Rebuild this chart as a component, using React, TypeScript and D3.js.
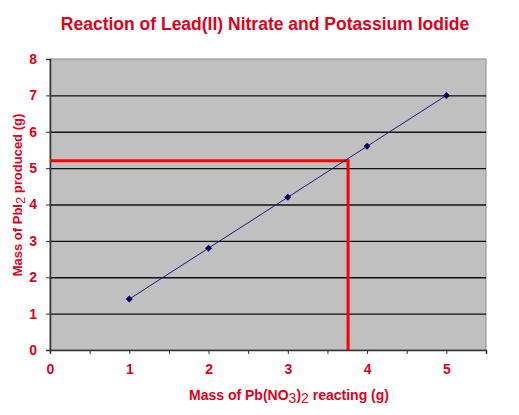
import { useEffect, useRef } from "react";
import * as d3 from "d3";

const massNitrate = [1, 2, 3, 4, 5];
const massIodide = [1.4, 2.8, 4.2, 5.6, 7.0];
const readX = 3.76;
const readY = 5.2;
const xTicks = [0, 1, 2, 3, 4, 5];
const yTicks = [0, 1, 2, 3, 4, 5, 6, 7, 8];

const W = 519;
const H = 415;
const margin = { top: 59, right: 33, bottom: 65, left: 50 };
const red = "#e0001b";
const font = "'Liberation Sans', Arial, sans-serif";

export default function App() {
  const ref = useRef<SVGSVGElement>(null);

  useEffect(() => {
    const svg = d3.select(ref.current);
    svg.selectAll("*").remove();

    const x = d3.scaleLinear().domain([0, 5.5]).range([margin.left, W - margin.right]);
    const y = d3.scaleLinear().domain([0, 8]).range([H - margin.bottom, margin.top]);

    svg.append("rect").attr("width", W).attr("height", H).attr("fill", "white");

    // title
    svg.append("text")
      .attr("x", 265).attr("y", 30)
      .attr("text-anchor", "middle")
      .style("font-family", font).style("font-weight", "bold").style("font-size", "17.5px")
      .attr("fill", red)
      .text("Reaction of Lead(II) Nitrate and Potassium Iodide");

    // plot area
    svg.append("rect")
      .attr("x", x(0)).attr("y", y(8))
      .attr("width", x(5.5) - x(0)).attr("height", y(0) - y(8))
      .attr("fill", "#c0c0c0")
      .attr("stroke", "#8c8c8c").attr("stroke-width", 1);

    // gridlines
    svg.append("g").selectAll("line")
      .data(yTicks.filter((d) => d > 0 && d < 8))
      .join("line")
      .attr("x1", x(0)).attr("x2", x(5.5))
      .attr("y1", (d) => y(d) + 0.5).attr("y2", (d) => y(d) + 0.5)
      .attr("stroke", "#111").attr("stroke-width", 1.3);

    // axes
    const yAxis = svg.append("g")
      .attr("transform", `translate(${x(0)},0)`)
      .call(d3.axisLeft(y).tickValues(yTicks).tickSize(4).tickFormat(d3.format("d")));
    const xAxis = svg.append("g")
      .attr("transform", `translate(0,${y(0)})`)
      .call(d3.axisBottom(x).tickValues(d3.range(0, 5.51, 0.5)).tickSize(4)
        .tickFormat((d) => (xTicks.includes(Number(d)) ? String(d) : "")));
    [yAxis, xAxis].forEach((a) => {
      a.select(".domain").attr("stroke", "#333").attr("stroke-width", 1.5);
      a.selectAll(".tick line").attr("stroke", "#333");
      a.selectAll("text")
        .style("font-family", font).style("font-weight", "bold").style("font-size", "14px")
        .attr("fill", red);
    });
    yAxis.selectAll("text").attr("x", -13);
    xAxis.selectAll("text").attr("y", 14);

    // reading lines
    svg.append("path")
      .attr("d", `M${x(0)},${y(readY)}H${x(readX)}V${y(0)}`)
      .attr("fill", "none").attr("stroke", "#ff0000").attr("stroke-width", 3);

    // data line
    const pts = massNitrate.map((m, i) => [m, massIodide[i]] as [number, number]);
    svg.append("path")
      .datum(pts)
      .attr("d", d3.line<[number, number]>().x((d) => x(d[0])).y((d) => y(d[1])))
      .attr("fill", "none").attr("stroke", "#1a1a80").attr("stroke-width", 1);

    svg.append("g").selectAll("path")
      .data(pts)
      .join("path")
      .attr("transform", (d) => `translate(${x(d[0])},${y(d[1])})`)
      .attr("d", "M0,-3.5L3.5,0L0,3.5L-3.5,0Z")
      .attr("fill", "#000066");

    // axis titles
    const xt = svg.append("text")
      .attr("x", 289).attr("y", 400)
      .attr("text-anchor", "middle")
      .style("font-family", font).style("font-weight", "bold").style("font-size", "14px")
      .attr("fill", red);
    xt.append("tspan").text("Mass of Pb(NO");
    xt.append("tspan").attr("dy", 3).style("font-weight", "normal").text("3");
    xt.append("tspan").attr("dy", -3).text(")");
    xt.append("tspan").attr("dy", 3).style("font-weight", "normal").text("2");
    xt.append("tspan").attr("dy", -3).text(" reacting (g)");

    const yt = svg.append("text")
      .attr("transform", `translate(22,195) rotate(-90)`)
      .attr("text-anchor", "middle")
      .style("font-family", font).style("font-weight", "bold").style("font-size", "13px")
      .attr("fill", red);
    yt.append("tspan").text("Mass of PbI");
    yt.append("tspan").attr("dy", 3).style("font-weight", "normal").text("2");
    yt.append("tspan").attr("dy", -3).text(" produced (g)");
  }, []);

  return <svg ref={ref} width={W} height={H} style={{ display: "block", margin: -8 }} />;
}
